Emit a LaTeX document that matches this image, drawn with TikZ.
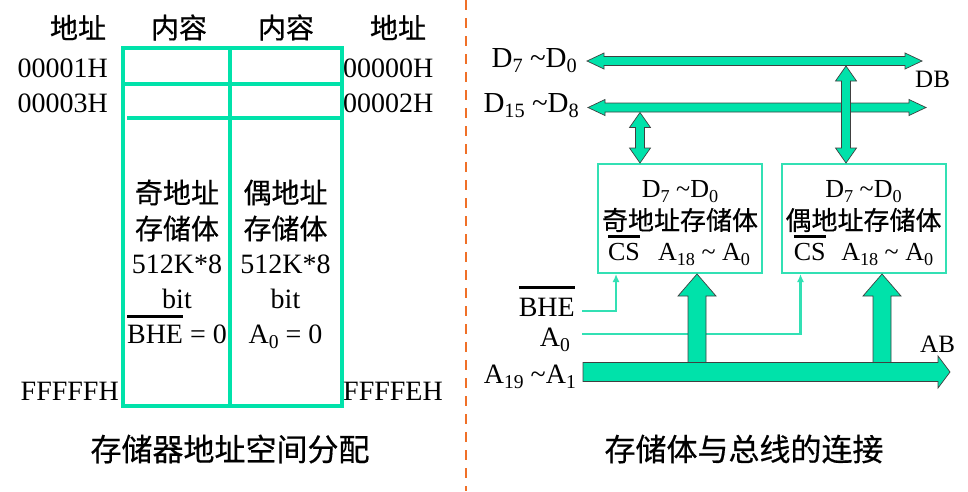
\documentclass[tikz,border=0pt]{standalone}
\usepackage{fontspec}
\setmainfont{Liberation Serif}
\newfontfamily\cjk[FakeBold=0.5]{Noto Sans CJK SC}
\usetikzlibrary{calc,arrows.meta}
\definecolor{teal1}{RGB}{0,226,170}
\definecolor{boxc}{RGB}{50,224,180}
\definecolor{orng}{RGB}{240,112,40}
\newcommand\sbs[1]{\raisebox{-0.2em}{\scalebox{0.7}{#1}}}
\newcommand\ovl[2][6pt]{\vbox{\hrule height 2.8pt\kern#1\hbox{#2}}}
% horizontal double arrow: left tip, right tip
\newcommand\hdbl[2]{\path[busarrow] (#1) -- ++(17,-8) -- ++(0,3.5) -- ($(#2)+(-17,-4.5)$) -- ++(0,-3.5) -- (#2) -- ++(-17,8) -- ++(0,-3.5) -- ($(#1)+(17,4.5)$) -- ++(0,3.5) -- cycle;}
% vertical double arrow: top tip, bottom tip
\newcommand\vdbl[2]{\path[busarrow] (#1) -- ++(-10.5,15) -- ++(6,0) -- ($(#2)+(-4.5,-15)$) -- ++(-6,0) -- (#2) -- ++(10.5,-15) -- ++(-6,0) -- ($(#1)+(4.5,15)$) -- ++(6,0) -- cycle;}
% thick up arrow: bottom centre, top tip
\newcommand\uparr[2]{\path[busarrow] ($(#1)+(-9,0)$) -- ($(#2)+(-9,22)$) -- ++(-10,0) -- (#2) -- ($(#2)+(19,22)$) -- ++(-10,0) -- ($(#1)+(9,0)$) -- cycle;}
\begin{document}
\begin{tikzpicture}[x=1pt,y=-1pt,
  tbl/.style={draw=teal1, line width=4pt},
  busarrow/.style={fill=teal1, draw=black!75, line width=0.7pt, line join=miter},
  sig/.style={draw=boxc, line width=2.2pt, -{Latex[length=8pt,width=7pt]}},
  memb/.style={draw=boxc, line width=2pt, minimum width=164pt, minimum height=109pt, inner sep=0pt},
  lat/.style={font=\fontsize{28}{30}\selectfont, inner sep=0pt},
  latb/.style={font=\fontsize{29}{32}\selectfont, inner sep=0pt},
  lat2/.style={font=\fontsize{26}{28}\selectfont, inner sep=0pt},
  latS/.style={font=\fontsize{25}{27}\selectfont, inner sep=0pt},
  cjkL/.style={font=\cjk\fontsize{28}{30}\selectfont, inner sep=0pt},
  cjk2/.style={font=\cjk\fontsize{26}{28}\selectfont, inner sep=0pt},
  capt/.style={font=\cjk\fontsize{31}{33}\selectfont, inner sep=0pt},
  sep/.style={draw=orng, line width=2.5pt, dash pattern=on 10pt off 8pt}]
\useasboundingbox (0,0) rectangle (968,491);

% ---------------- left: address space ----------------
\draw[tbl] (122.5,48) rectangle (341.5,406);
\draw[tbl] (230,48) -- (230,406);
\draw[tbl] (122.5,83.5) -- (341.5,83.5);
\draw[tbl] (127,118) -- (341.5,118);

\node[cjkL] (h1) at (78,27.5) {地址};
\node[cjkL] (h2) at (179,27.5) {内容};
\node[cjkL] (h3) at (286,27.5) {内容};
\node[cjkL] (h4) at (398,27.5) {地址};

\node[lat, anchor=base east] (a1) at (108,77) {00001H};
\node[lat, anchor=base east] (a3) at (108,112) {00003H};
\node[lat, anchor=base west] (a0) at (343,77) {00000H};
\node[lat, anchor=base west] (a2) at (343,112) {00002H};
\node[lat, anchor=base east] (af) at (119,400) {FFFFFH};
\node[lat, anchor=base west] (ae) at (343,400) {FFFFEH};

\node[cjkL] (o1) at (177,192.5) {奇地址};
\node[cjkL] (o2) at (177,228.5) {存储体};
\node[lat, anchor=base] (o3) at (177,273) {512K*8};
\node[lat, anchor=base] (o4) at (177,308) {bit};
\node[lat, anchor=base] (o5) at (177,343) {\ovl[7pt]{BHE} = 0};

\node[cjkL] (e1) at (285.5,192.5) {偶地址};
\node[cjkL] (e2) at (285.5,228.5) {存储体};
\node[lat, anchor=base] (e3) at (285.5,273) {512K*8};
\node[lat, anchor=base] (e4) at (285.5,308) {bit};
\node[lat, anchor=base] (e5) at (285.5,343) {A\sbs{0} = 0};

\node[capt] (c1) at (230,449) {存储器地址空间分配};
\node[capt] (c2) at (744,449) {存储体与总线的连接};

% separator
\coordinate (dtop) at (466,0);
\coordinate (dbot) at (466,491);
\draw[sep] (dtop) -- (dbot);

% ---------------- right: bus connection ----------------
\coordinate (d7L) at (587,61);
\coordinate (d7R) at (922,61);
\coordinate (d15L) at (588,107.5);
\coordinate (d15R) at (926,107.5);
\hdbl{d7L}{d7R}
\hdbl{d15L}{d15R}

\node[memb] (odd) at (680,218.5) {};
\node[memb] (even) at (863.5,218.5) {};

\coordinate (v1t) at (640,112.5);
\coordinate (v1b) at ($(odd.north)+(-40,0)$);
\coordinate (v2t) at (846,66);
\coordinate (v2b) at ($(even.north)+(-17.5,0)$);
\vdbl{v1t}{v1b}
\vdbl{v2t}{v2b}

\node[lat2, anchor=base] (ot1) at (680,197) {D\sbs{7} \textasciitilde D\sbs{0}};
\node[cjk2] (ot2) at (680,220) {奇地址存储体};
\node[lat2, anchor=base] (ot3) at (679,260) {\ovl[5pt]{CS}\hspace{0.7em}A\sbs{18} \textasciitilde{} A\sbs{0}};
\node[lat2, anchor=base] (et1) at (863.5,197) {D\sbs{7} \textasciitilde D\sbs{0}};
\node[cjk2] (et2) at (863.5,220) {偶地址存储体};
\node[lat2, anchor=base] (et3) at (863.5,260) {\ovl[5pt]{CS}\hspace{0.6em}A\sbs{18} \textasciitilde{} A\sbs{0}};

\node[latb, anchor=base east] (lb1) at (577,67) {D\sbs{7} \textasciitilde D\sbs{0}};
\node[latb, anchor=base east] (lb2) at (579,112) {D\sbs{15} \textasciitilde D\sbs{8}};
\node[latS, anchor=base west] (db) at (915,87) {DB};
\node[lat, anchor=base east] (bhe) at (575,316) {\ovl[9pt]{BHE}};
\node[lat, anchor=base east] (a0l) at (570,346) {A\sbs{0}};
\node[lat, anchor=base east] (a19) at (576,383) {A\sbs{19} \textasciitilde A\sbs{1}};
\node[latS, anchor=base west] (ab) at (920,352) {AB};

% control lines
\coordinate (bheS) at (582,311);
\coordinate (a0S) at (582,334);
\coordinate (csO) at ($(odd.south west)+(19,0)$);
\coordinate (csE) at ($(even.south west)+(20,0)$);
\draw[sig] (bheS) -| (csO);
\draw[sig] (a0S) -| (csE);

% address bus
\coordinate (u1b) at (697,362.5);
\coordinate (u1t) at ($(odd.south)+(17,0)$);
\coordinate (u2b) at (882,362.5);
\coordinate (u2t) at ($(even.south)+(18.5,0)$);
\uparr{u1b}{u1t}
\uparr{u2b}{u2t}
\coordinate (abL) at (583,372);
\coordinate (abR) at (950,372);
\path[busarrow] ($(abL)+(0,-9.5)$) -- ($(abR)+(-12,-9.5)$) -- ($(abR)+(-12,-16)$) -- (abR) -- ($(abR)+(-12,16)$) -- ($(abR)+(-12,9.5)$) -- ($(abL)+(0,9.5)$) -- cycle;
\end{tikzpicture}
\end{document}
